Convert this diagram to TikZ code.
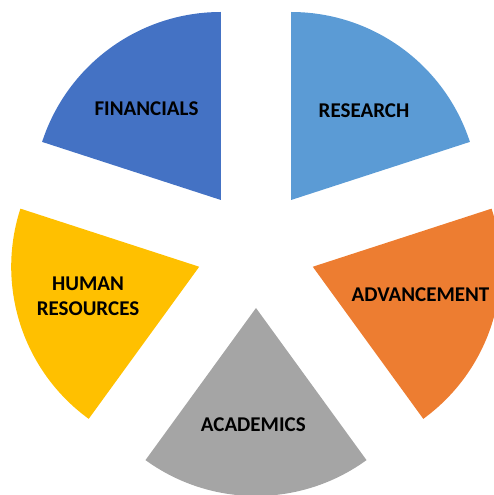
\documentclass[tikz,border=0pt]{standalone}
\usepackage{fontspec}
\setmainfont{Carlito}

\definecolor{finblue}{HTML}{4472C4}
\definecolor{resblue}{HTML}{5B9BD5}
\definecolor{advorange}{HTML}{ED7D31}
\definecolor{acadgray}{HTML}{A5A5A5}
\definecolor{hrgold}{HTML}{FFC000}

\tikzset{
  slicelabel/.style={font=\fontsize{21}{24.7}\selectfont\bfseries, text=black, align=center, inner sep=0pt}
}

\begin{document}
\begin{tikzpicture}[x=1pt,y=1pt]

  % Define the center of the pie
  \coordinate (O) at (0,0);

  % Define the radius and the explosion offset of each slice
  \def\R{188}
  \def\D{59.7}

  % Fix the margins
  \useasboundingbox (-256,-246.7) rectangle (238,248.3);

  % Apex of each slice, pushed out along its bisector
  \coordinate (Res) at (54:\D);
  \coordinate (Fin) at (126:\D);
  \coordinate (Hum) at (198:\D);
  \coordinate (Acad) at (270:\D);
  \coordinate (Adv) at (342:\D);

  % Draw the slices
  \fill[resblue] (Res) -- ++(18:\R) arc (18:90:\R) -- cycle;
  \fill[finblue] (Fin) -- ++(90:\R) arc (90:162:\R) -- cycle;
  \fill[hrgold] (Hum) -- ++(162:\R) arc (162:234:\R) -- cycle;
  \fill[acadgray] (Acad) -- ++(234:\R) arc (234:306:\R) -- cycle;
  \fill[advorange] (Adv) -- ++(306:\R) arc (306:378:\R) -- cycle;

  % Add the labels
  \node[slicelabel] (research) at (108,137.6) {RESEARCH};
  \node[slicelabel] (financials) at (-109.5,139.3) {FINANCIALS};
  \node[slicelabel] (humanres) at (-168,-48.2) {HUMAN\\RESOURCES};
  \node[slicelabel] (academics) at (-2.7,-176.2) {ACADEMICS};
  \node[slicelabel] (advancement) at (164.5,-46.2) {ADVANCEMENT};

\end{tikzpicture}
\end{document}
